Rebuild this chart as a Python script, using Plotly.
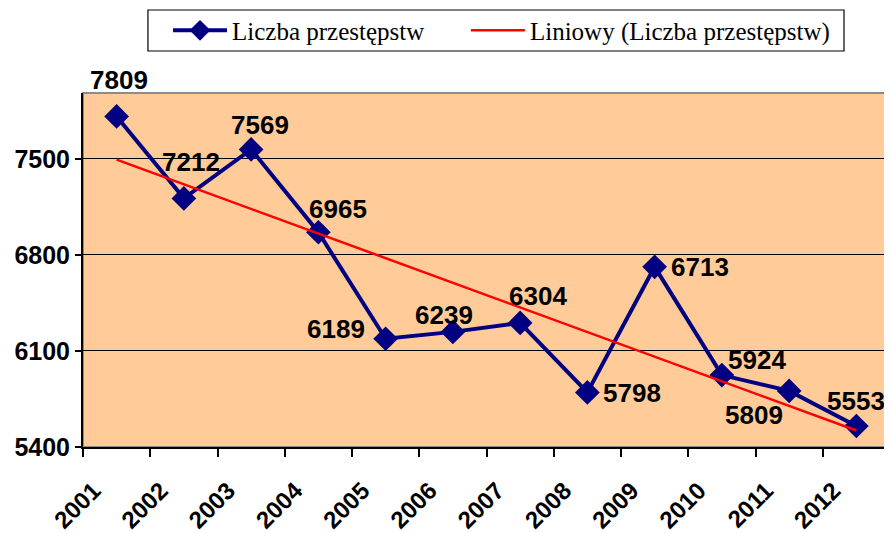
import plotly.graph_objects as go

years = ["2001", "2002", "2003", "2004", "2005", "2006",
         "2007", "2008", "2009", "2010", "2011", "2012"]
crimes = [7809, 7212, 7569, 6965, 6189, 6239, 6304, 5798, 6713, 5924, 5809, 5553]

# linear trend (start / end)
trend_years = ["2001", "2012"]
trend_values = [7494, 5520]

y_ticks = [5400, 6100, 6800, 7500]

# label offsets in px (dx, dy) so labels sit like in the original
label_shift = [(2, 36), (7, 36), (9, 24), (20, 23), (-50, 10), (-9, 17),
               (18, 27), (45, -1), (45, 0), (35, 15), (-35, -24), (0, 25)]

fig = go.Figure()

fig.add_trace(
    go.Scatter(
        x=years,
        y=crimes,
        mode="lines+markers",
        name="Liczba przestępstw",
        legend="legend",
        line=dict(color="#000080", width=4),
        marker=dict(symbol="diamond", size=19, color="#000080")
    )
)

fig.add_trace(
    go.Scatter(
        x=trend_years,
        y=trend_values,
        mode="lines",
        name="Liniowy (Liczba przestępstw)",
        legend="legend2",
        line=dict(color="#FF0000", width=2.5)
    )
)

for i, (val, (dx, dy)) in enumerate(zip(crimes, label_shift)):
    fig.add_annotation(
        x=i, y=val, text=str(val),
        xref="x", yref="y",
        showarrow=False,
        xshift=dx, yshift=dy,
        font=dict(family="Liberation Sans", size=26, color="black", weight="bold")
    )

# grey frame round the plot area
fig.add_shape(
    type="rect", xref="paper", yref="paper",
    x0=0, y0=0, x1=1, y1=1,
    line=dict(color="#8c8c8c", width=2),
    layer="below"
)

# legend box (both legend entries sit inside it)
fig.add_shape(
    type="rect", xref="paper", yref="paper",
    x0=0.0805, x1=0.943, y0=1.1186, y1=1.2345,
    fillcolor="white",
    line=dict(color="black", width=1.2),
    layer="below"
)

legend_style = dict(
    orientation="h",
    xref="container", yref="container",
    xanchor="left",
    y=0.957, yanchor="middle",
    bgcolor="rgba(0,0,0,0)",
    borderwidth=0,
    itemwidth=54,
    font=dict(family="Liberation Serif", size=25, color="black")
)

# page has an 8px body margin, so the figure is a bit smaller than the window
fig.update_layout(
    width=884,
    height=525,
    margin=dict(l=75, r=2, t=85, b=86, autoexpand=False),
    paper_bgcolor="white",
    plot_bgcolor="#FFCC99",
    font=dict(family="Liberation Sans", size=25, color="black"),
    showlegend=True,
    legend=dict(x=0.181, **legend_style),
    legend2=dict(x=0.518, **legend_style)
)

fig.update_xaxes(
    type="category",
    range=[-0.5, 11.5],
    tickson="boundaries",
    ticks="outside",
    ticklen=8,
    tickwidth=1.5,
    tickcolor="black",
    tickangle=-45,
    ticklabelshift=-23,
    ticklabelstandoff=18,
    automargin=False,
    showline=True,
    linecolor="black",
    linewidth=2,
    showgrid=False,
    tickfont=dict(family="Liberation Sans", size=24, weight="bold")
)

fig.update_yaxes(
    range=[5400, 7980],
    tickvals=y_ticks,
    ticks="outside",
    ticklen=6,
    tickwidth=1.5,
    tickcolor="black",
    automargin=False,
    showline=True,
    linecolor="black",
    linewidth=2,
    showgrid=True,
    gridcolor="black",
    gridwidth=1,
    zeroline=False,
    tickfont=dict(family="Liberation Sans", size=25, weight="bold")
)

fig.write_html("out.html")
